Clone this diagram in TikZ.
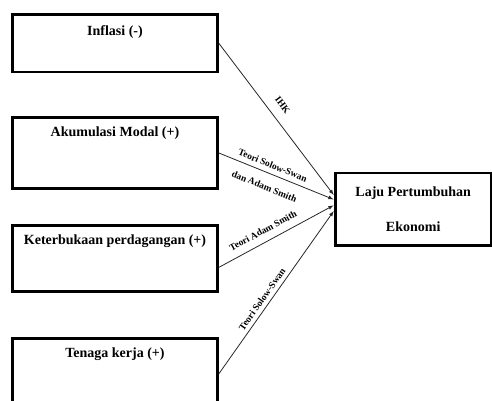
\documentclass[tikz,border=0pt]{standalone}
\usepackage{fontspec}
\setmainfont{Liberation Serif}
\usetikzlibrary{arrows}

\tikzset{
  factor/.style={draw=black, line width=2.7pt, inner sep=0pt, minimum width=205pt,
    font=\fontsize{14}{17}\selectfont\bfseries, text height=19pt},
  flow/.style={draw=black!85, line width=0.8pt, -latex, shorten >=0.5pt},
  theory/.style={font=\fontsize{9.5}{11}\selectfont\bfseries, inner sep=1pt, sloped}
}

\begin{document}
\begin{tikzpicture}[x=1pt,y=1pt]
\clip (0,0) rectangle (492,401);

%Shape: Rectangle [factors]
\node [factor, minimum height=57.3pt, text height=20.6pt, text depth=36.7pt] (inflasi) at (115,357.7) {Inflasi (-)};
\node [factor, minimum height=71.4pt, text depth=52.4pt] (modal) at (115,248) {Akumulasi Modal (+)};
\node [factor, minimum height=66pt, text depth=47pt] (dagang) at (115,142.7) {Keterbukaan perdagangan (+)};
\node [factor, minimum height=70pt, text depth=51pt] (kerja) at (115,27.2) {Tenaga kerja (+)};

%Shape: Rectangle [goal]
\node [draw=black, line width=2.7pt, inner sep=0pt, minimum width=155.7pt, minimum height=72.7pt,
  align=center, font=\fontsize{14}{17}\selectfont\bfseries] (laju) at (413.2,191.7)
  {Laju Pertumbuhan\\[18pt]Ekonomi};

%Straight Lines [arrows]
\draw [flow] (inflasi.east) -- (laju.170.3) node [theory, above=9pt, pos=0.46] {IHK};
\draw [flow] (modal.east) -- (laju.173.9)
  node [theory, above=4pt, pos=0.44] {Teori Solow-Swan}
  node [theory, below=9pt, pos=0.44] {dan Adam Smith};
\draw [flow] (dagang.-5) -- (laju.177.6) node [theory, above=6.5pt, pos=0.43] {Teori Adam Smith};
\draw [flow] (kerja.east) -- (laju.181.3) node [theory, above=3pt, pos=0.43] {Teori Solow-Swan};
\end{tikzpicture}
\end{document}
